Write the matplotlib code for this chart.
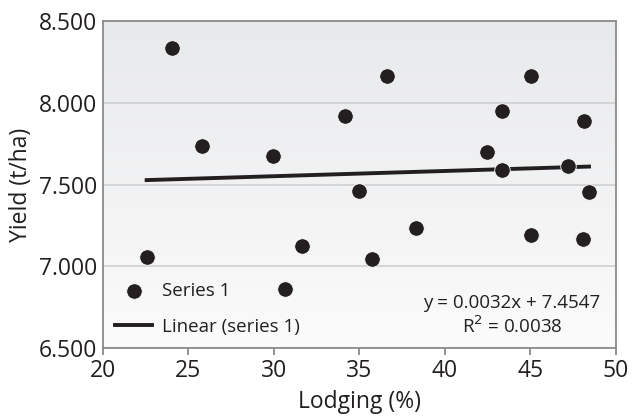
import numpy as np
import matplotlib.pyplot as plt
from matplotlib.colors import LinearSegmentedColormap

plt.rcParams['font.family'] = ['Open Sans', 'DejaVu Sans']

# lodging (%) and yield (t/ha)
lodging = [22.57, 24.04, 25.81, 29.98, 30.68, 31.65, 34.19, 34.99, 35.77, 36.65,
           38.35, 42.50, 43.34, 43.38, 45.02, 45.07, 47.23, 48.13, 48.07, 48.44]
yield_t = [7.058, 8.337, 7.735, 7.672, 6.859, 7.124, 7.917, 7.462, 7.044, 8.164,
           7.236, 7.697, 7.950, 7.589, 7.189, 8.164, 7.613, 7.890, 7.167, 7.456]

# trend line as given on the chart
slope = 0.0032
intercept = 7.4547
r2 = 0.0038

xticks = [20, 25, 30, 35, 40, 45, 50]
yticks = [6.5, 7.0, 7.5, 8.0, 8.5]

fig = plt.figure(figsize=(6.32, 4.17), dpi=100)
ax = fig.add_axes([0.1625, 0.1655, 0.8117, 0.7841])

# gradient background
cmap = LinearSegmentedColormap.from_list('bg', ['#fbfbfb', '#e8e9eb'])
grad = np.linspace(0, 1, 256).reshape(-1, 1)
ax.imshow(grad, cmap=cmap, origin='lower', extent=[0, 1, 0, 1],
          transform=ax.transAxes, aspect='auto', zorder=0)

ax.set_xlim(20, 50)
ax.set_ylim(6.5, 8.5)
ax.set_xticks(xticks)
ax.set_yticks(yticks)
ax.set_yticklabels(['%.3f' % v for v in yticks])
ax.grid(axis='y', color='#d2d2d2', lw=1.3, zorder=1)

ax.scatter(lodging, yield_t, s=125, color='#231f20', edgecolor='white',
           linewidth=0.6, zorder=4, label='Series 1')
xs = np.array([min(lodging), max(lodging)])
ax.plot(xs, slope * xs + intercept, color='#231f20', lw=2.8, zorder=3,
        label='Linear (series 1)')

for s in ax.spines.values():
    s.set_color('#8a8a8a')
    s.set_linewidth(1.3)
ax.tick_params(axis='x', length=5, width=1.3, color='#8a8a8a', labelsize=16.5,
               labelcolor='#231f20', pad=3)
ax.tick_params(axis='y', length=0, labelsize=16.5, labelcolor='#231f20', pad=4)

ax.set_xlabel('Lodging (%)', fontsize=16.5, color='#231f20', labelpad=5)
ax.set_ylabel('Yield (t/ha)', fontsize=16.5, color='#231f20', labelpad=4)

leg = ax.legend(loc='lower left', frameon=False, fontsize=13.5, handlelength=2.0,
                borderaxespad=0.15, labelspacing=0.95, handletextpad=0.5,
                borderpad=0.5)
for t in leg.get_texts():
    t.set_color('#231f20')

ax.text(0.798, 0.035, 'y = %.4fx + %.4f\nR$^2$ = %.4f' % (slope, intercept, r2),
        transform=ax.transAxes, ha='center', va='bottom', fontsize=13.5,
        color='#231f20', linespacing=1.15)

fig.savefig('out.png', dpi=100)
